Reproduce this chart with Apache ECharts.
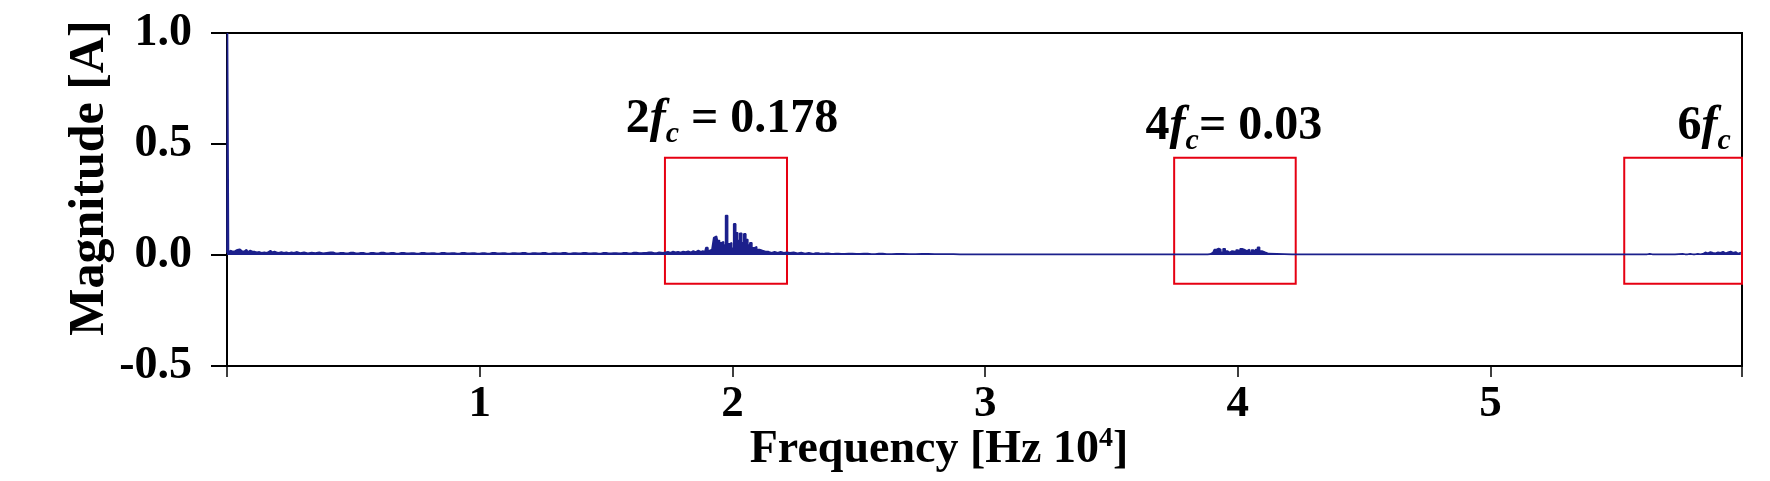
<!DOCTYPE html>
<html><head><meta charset="utf-8">
<script src="https://cdn.jsdelivr.net/npm/echarts@6/dist/echarts.min.js"></script>
<style>html,body{margin:0;padding:0;background:#fff}#c{width:1770px;height:481px}</style>
</head><body><div id="c"></div>
<script>
// ---- data: [frequency (x10^4 Hz), magnitude (A)] ----
const lowBand = [[0.000,0.010],[0.004,1.000],[0.008,0.014],[0.014,0.020],[0.020,0.016],[0.026,0.022],[0.032,0.018],[0.038,0.024],[0.044,0.020],[0.050,0.026],[0.056,0.018],[0.062,0.022],[0.068,0.016],[0.074,0.024],[0.080,0.018],[0.086,0.014],[0.092,0.020],[0.098,0.016],[0.104,0.022],[0.110,0.015],[0.116,0.012],[0.122,0.018],[0.128,0.014],[0.134,0.010],[0.140,0.016],[0.148,0.012],[0.156,0.010],[0.164,0.014],[0.172,0.020],[0.180,0.012],[0.188,0.016],[0.196,0.012],[0.205,0.010],[0.215,0.014],[0.225,0.010],[0.235,0.012],[0.245,0.009],[0.255,0.012],[0.265,0.010],[0.275,0.014],[0.290,0.009],[0.305,0.012],[0.320,0.008],[0.335,0.011],[0.350,0.009],[0.365,0.012],[0.380,0.008],[0.395,0.010],[0.410,0.012],[0.430,0.008],[0.450,0.010],[0.470,0.008],[0.490,0.011],[0.510,0.008],[0.530,0.010],[0.550,0.007],[0.570,0.010],[0.590,0.008],[0.610,0.011],[0.630,0.008],[0.650,0.010],[0.670,0.007],[0.690,0.010],[0.710,0.008],[0.730,0.009],[0.750,0.007],[0.770,0.010],[0.790,0.008],[0.810,0.009],[0.830,0.007],[0.850,0.010],[0.870,0.008],[0.890,0.009],[0.910,0.007],[0.930,0.010],[0.950,0.008],[0.970,0.009],[0.990,0.007],[1.010,0.009],[1.030,0.007],[1.050,0.010],[1.070,0.008],[1.090,0.009],[1.110,0.007],[1.130,0.009],[1.150,0.008],[1.170,0.010],[1.190,0.007],[1.210,0.009],[1.230,0.008],[1.250,0.010],[1.270,0.007],[1.290,0.009],[1.310,0.008],[1.330,0.010],[1.350,0.007],[1.370,0.009],[1.390,0.008],[1.410,0.010],[1.430,0.008],[1.450,0.009],[1.470,0.007],[1.490,0.010],[1.510,0.008],[1.530,0.009],[1.550,0.008],[1.570,0.010],[1.590,0.008],[1.610,0.011],[1.630,0.009],[1.650,0.010],[1.670,0.012],[1.690,0.009],[1.710,0.012],[1.725,0.010]];
const band2 = [[1.735,0.012],[1.745,0.015],[1.755,0.010],[1.765,0.016],[1.775,0.012],[1.785,0.015],[1.795,0.011],[1.805,0.016],[1.815,0.013],[1.825,0.017],[1.835,0.012],[1.845,0.018],[1.855,0.014],[1.865,0.020],[1.875,0.015],[1.883,0.018],[1.891,0.015],[1.899,0.033],[1.907,0.020],[1.915,0.025],[1.923,0.022],[1.929,0.078],[1.937,0.085],[1.945,0.065],[1.953,0.055],[1.961,0.060],[1.969,0.045],[1.977,0.178],[1.985,0.050],[1.993,0.055],[2.001,0.030],[2.009,0.140],[2.017,0.100],[2.025,0.065],[2.033,0.098],[2.041,0.055],[2.049,0.095],[2.057,0.070],[2.065,0.045],[2.073,0.055],[2.081,0.032],[2.091,0.037],[2.101,0.025],[2.113,0.020],[2.125,0.016],[2.137,0.015],[2.149,0.010],[2.161,0.015],[2.173,0.010],[2.185,0.015],[2.197,0.010],[2.209,0.012],[2.221,0.010]];
const midBand = [[2.235,0.012],[2.250,0.008],[2.265,0.011],[2.280,0.007],[2.295,0.010],[2.310,0.006],[2.330,0.009],[2.350,0.006],[2.370,0.008],[2.390,0.005],[2.410,0.007],[2.430,0.005],[2.460,0.007],[2.490,0.005],[2.520,0.006],[2.550,0.004],[2.580,0.006],[2.610,0.004],[2.650,0.005],[2.700,0.004],[2.750,0.005],[2.800,0.004],[2.850,0.004],[2.900,0.003],[3.000,0.003],[3.100,0.003],[3.200,0.003],[3.300,0.003],[3.400,0.003],[3.500,0.003],[3.600,0.003],[3.700,0.003],[3.800,0.003],[3.880,0.003]];
const band4 = [[3.890,0.004],[3.902,0.012],[3.912,0.025],[3.920,0.030],[3.928,0.025],[3.937,0.012],[3.946,0.028],[3.954,0.018],[3.963,0.012],[3.973,0.018],[3.981,0.017],[3.989,0.012],[3.997,0.022],[4.005,0.018],[4.013,0.028],[4.021,0.025],[4.029,0.028],[4.036,0.018],[4.042,0.025],[4.050,0.012],[4.058,0.022],[4.066,0.015],[4.074,0.025],[4.082,0.035],[4.090,0.018],[4.101,0.012],[4.115,0.006],[4.130,0.003]];
const highBand = [[4.300,0.003],[4.500,0.003],[4.700,0.003],[4.900,0.003],[5.100,0.003],[5.300,0.003],[5.500,0.003],[5.620,0.003],[5.630,0.005],[5.640,0.003],[5.700,0.003],[5.760,0.005],[5.770,0.003],[5.790,0.005],[5.800,0.003],[5.820,0.005],[5.830,0.003],[5.840,0.005]];
const band6 = [[5.850,0.012],[5.860,0.008],[5.870,0.014],[5.880,0.010],[5.890,0.008],[5.900,0.012],[5.910,0.010],[5.920,0.015],[5.930,0.008],[5.940,0.012],[5.950,0.016],[5.960,0.010],[5.970,0.014],[5.980,0.006],[5.990,0.012]];

const xTicks = [0, 1, 2, 3, 4, 5];
const xTickLabels = ['', '1', '2', '3', '4', '5'];
const yTicks = [-0.5, 0.0, 0.5, 1.0];
const yTickLabels = ['-0.5', '0.0', '0.5', '1.0'];

const harmonicOrder = ['2', '4', '6'];
const harmonicText = [' = 0.178', '= 0.03', ''];
const boxFreqRanges = [[1.733, 2.216], [3.748, 4.229], [5.529, 5.995]];
const boxMagRange = [-0.129, 0.438];

const xTitle = 'Frequency [Hz 10';
const xTitleSup = '4';
const yTitle = 'Magnitude [A]';

// ---- chart ----
const FONT = '"Liberation Serif","Times New Roman",serif';
const NAVY = '#1c208c';
const RED = '#e60012';
const spectrum = [].concat(lowBand, band2, midBand, band4, highBand, band6);

const richAnn = {
  n: {fontFamily: FONT, fontWeight: 'bold', fontSize: 48, lineHeight: 50, color: '#000'},
  f: {fontFamily: FONT, fontWeight: 'bold', fontStyle: 'italic', fontSize: 48, lineHeight: 50, color: '#000'},
  c: {fontFamily: FONT, fontWeight: 'bold', fontStyle: 'italic', fontSize: 30, height: 22, lineHeight: 22, verticalAlign: 'bottom', color: '#000'}
};
const labelOffsets = [[6, 0], [-1, 0], [21, 0]];
const labelDist = [12, 5, 5];

const areas = boxFreqRanges.map((r, i) => [
  {
    xAxis: r[0], yAxis: boxMagRange[1],
    label: {
      show: true, position: 'top', distance: labelDist[i], offset: labelOffsets[i],
      formatter: '{n|' + harmonicOrder[i] + '}{f|f}{c|c}' + (harmonicText[i] ? '{n|' + harmonicText[i] + '}' : ''),
      rich: richAnn
    }
  },
  {xAxis: r[1], yAxis: boxMagRange[0]}
]);

const chart = echarts.init(document.getElementById('c'), null, {renderer: 'canvas'});
chart.setOption({
  animation: false,
  backgroundColor: '#fff',
  grid: {left: 227, right: 28, top: 33, bottom: 115, show: true, borderColor: '#000', borderWidth: 2, backgroundColor: 'transparent', outerBoundsMode: 'none'},
  xAxis: {
    type: 'value', min: xTicks[0], max: 5.995, interval: 1,
    axisLine: {onZero: false, lineStyle: {color: '#000', width: 2}},
    axisTick: {show: true, inside: false, length: 11, lineStyle: {color: '#000', width: 1.5}},
    splitLine: {show: false},
    axisLabel: {
      margin: 16, color: '#000', fontFamily: FONT, fontWeight: 'bold', fontSize: 45,
      formatter: v => { const i = xTicks.indexOf(Math.round(v)); return i >= 0 ? xTickLabels[i] : ''; }
    }
  },
  yAxis: {
    type: 'value', min: yTicks[0], max: yTicks[yTicks.length - 1], interval: 0.5,
    axisLine: {onZero: false, lineStyle: {color: '#000', width: 2}},
    axisTick: {show: true, inside: false, length: 16, lineStyle: {color: '#000', width: 2}},
    splitLine: {show: false},
    axisLabel: {
      margin: 35, color: '#000', fontFamily: FONT, fontWeight: 'bold', fontSize: 46,
      formatter: v => { const i = yTicks.findIndex(t => Math.abs(t - v) < 1e-6); return i >= 0 ? yTickLabels[i] : ''; }
    }
  },
  series: [
    {
      type: 'line', data: spectrum, step: 'middle', showSymbol: false, symbol: 'none',
      lineStyle: {color: NAVY, width: 1.6}, itemStyle: {color: NAVY},
      areaStyle: {color: NAVY, opacity: 1}, z: 2, silent: true
    },
    {
      type: 'line', data: [], silent: true, z: 3,
      markArea: {
        silent: true,
        itemStyle: {color: 'rgba(0,0,0,0)', borderColor: RED, borderWidth: 2},
        data: areas
      }
    }
  ],
  graphic: [
    {
      type: 'text', x: 90, y: 178, rotation: Math.PI / 2,
      style: {text: yTitle, fontFamily: FONT, fontWeight: 'bold', fontSize: 50, fill: '#000', align: 'center', verticalAlign: 'middle'}
    },
    {
      type: 'text', x: 939, y: 450,
      style: {
        text: '{a|' + xTitle + '}{s|' + xTitleSup + '}{a|]}',
        align: 'center', verticalAlign: 'middle',
        rich: {
          a: {fontFamily: FONT, fontWeight: 'bold', fontSize: 46, lineHeight: 50, fill: '#000'},
          s: {fontFamily: FONT, fontWeight: 'bold', fontSize: 28, lineHeight: 30, verticalAlign: 'top', fill: '#000'}
        }
      }
    }
  ]
});
</script>
</body></html>
